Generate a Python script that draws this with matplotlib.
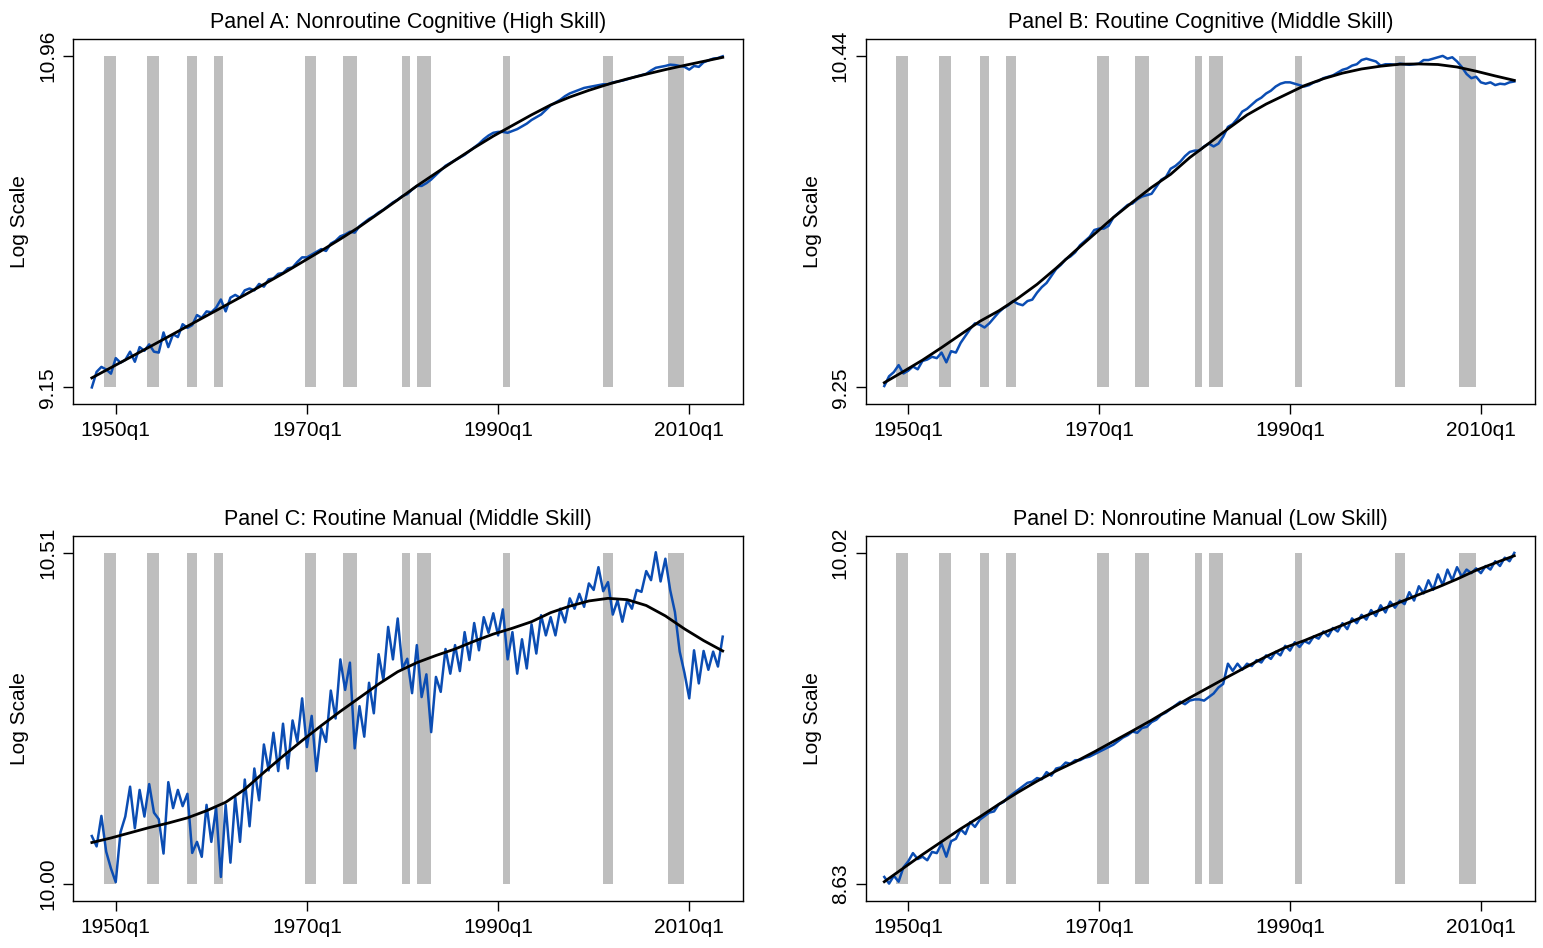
import numpy as np
import matplotlib
matplotlib.use('Agg')
import matplotlib.pyplot as plt

plt.rcParams['font.family'] = ['Liberation Sans', 'DejaVu Sans']

# panel titles and the min / max values shown on each y axis
titles = ['Panel A: Nonroutine Cognitive (High Skill)',
          'Panel B: Routine Cognitive (Middle Skill)',
          'Panel C: Routine Manual (Middle Skill)',
          'Panel D: Nonroutine Manual (Low Skill)']
y_ranges = [(9.15, 10.96), (9.25, 10.44), (10.00, 10.51), (8.63, 10.02)]

x_ticks = [1950.0, 1970.0, 1990.0, 2010.0]
x_ticklabels = ['1950q1', '1970q1', '1990q1', '2010q1']

# NBER recessions (peak quarter .. trough quarter + 1)
rec_start = [1948.75, 1953.25, 1957.5, 1960.25, 1969.75, 1973.75,
             1980.0, 1981.5, 1990.5, 2001.0, 2007.75]
rec_end = [1950.0, 1954.5, 1958.5, 1961.25, 1971.0, 1975.25,
           1980.75, 1983.0, 1991.25, 2002.0, 2009.5]

# employment series, half-yearly from 1947.5 (10 values = 5 years per row)
blue_start = 1947.5
a_blue = [9.150, 9.235, 9.262, 9.248, 9.225, 9.310, 9.285, 9.300, 9.345, 9.290,
          9.370, 9.350, 9.385, 9.345, 9.340, 9.450, 9.370, 9.440, 9.425, 9.495,
          9.475, 9.490, 9.545, 9.530, 9.565, 9.560, 9.585, 9.630, 9.565, 9.640,
          9.655, 9.640, 9.680, 9.690, 9.680, 9.715, 9.700, 9.740, 9.745, 9.770,
          9.775, 9.800, 9.805, 9.835, 9.860, 9.860, 9.875, 9.890, 9.905, 9.895,
          9.935, 9.950, 9.975, 9.985, 10.000, 9.995, 10.030, 10.050, 10.070, 10.085,
          10.105, 10.120, 10.140, 10.160, 10.175, 10.195, 10.205, 10.230, 10.250, 10.250,
          10.265, 10.285, 10.310, 10.335, 10.360, 10.375, 10.390, 10.405, 10.420, 10.440,
          10.460, 10.480, 10.505, 10.525, 10.540, 10.545, 10.545, 10.540, 10.550, 10.560,
          10.575, 10.590, 10.610, 10.625, 10.640, 10.665, 10.690, 10.705, 10.720, 10.740,
          10.755, 10.765, 10.775, 10.785, 10.790, 10.795, 10.800, 10.805, 10.805, 10.815,
          10.820, 10.825, 10.832, 10.840, 10.848, 10.855, 10.862, 10.880, 10.895, 10.900,
          10.905, 10.912, 10.910, 10.905, 10.900, 10.885, 10.905, 10.900, 10.925, 10.935,
          10.945, 10.948, 10.958]
b_blue = [9.255, 9.290, 9.305, 9.330, 9.300, 9.310, 9.325, 9.315, 9.345, 9.350,
          9.360, 9.355, 9.375, 9.340, 9.380, 9.375, 9.410, 9.435, 9.460, 9.480,
          9.475, 9.465, 9.480, 9.500, 9.520, 9.535, 9.545, 9.560, 9.550, 9.545,
          9.560, 9.565, 9.590, 9.610, 9.625, 9.650, 9.675, 9.690, 9.710, 9.720,
          9.735, 9.760, 9.775, 9.790, 9.815, 9.820, 9.820, 9.830, 9.860, 9.875,
          9.890, 9.905, 9.910, 9.925, 9.935, 9.940, 9.945, 9.970, 9.995, 10.005,
          10.035, 10.045, 10.060, 10.080, 10.095, 10.100, 10.100, 10.115, 10.125, 10.115,
          10.125, 10.150, 10.185, 10.195, 10.215, 10.240, 10.250, 10.265, 10.280, 10.290,
          10.305, 10.315, 10.330, 10.340, 10.345, 10.345, 10.340, 10.335, 10.330, 10.335,
          10.345, 10.350, 10.360, 10.365, 10.370, 10.380, 10.390, 10.395, 10.405, 10.410,
          10.425, 10.430, 10.425, 10.420, 10.405, 10.410, 10.410, 10.408, 10.412, 10.410,
          10.408, 10.410, 10.412, 10.425, 10.425, 10.430, 10.435, 10.440, 10.430, 10.435,
          10.420, 10.400, 10.375, 10.360, 10.365, 10.345, 10.340, 10.345, 10.335, 10.340,
          10.338, 10.345, 10.348]
c_blue = [10.074, 10.058, 10.105, 10.050, 10.024, 10.003, 10.080, 10.104, 10.150, 10.086,
          10.145, 10.104, 10.154, 10.110, 10.100, 10.047, 10.157, 10.117, 10.145, 10.120,
          10.139, 10.048, 10.065, 10.042, 10.122, 10.065, 10.117, 10.011, 10.122, 10.033,
          10.134, 10.065, 10.161, 10.089, 10.178, 10.129, 10.215, 10.175, 10.233, 10.174,
          10.247, 10.178, 10.252, 10.219, 10.286, 10.211, 10.259, 10.174, 10.240, 10.219,
          10.298, 10.255, 10.346, 10.299, 10.341, 10.209, 10.274, 10.227, 10.310, 10.263,
          10.354, 10.314, 10.396, 10.346, 10.409, 10.332, 10.347, 10.294, 10.368, 10.288,
          10.323, 10.234, 10.319, 10.296, 10.362, 10.324, 10.368, 10.328, 10.388, 10.345,
          10.402, 10.360, 10.411, 10.387, 10.417, 10.383, 10.423, 10.346, 10.388, 10.324,
          10.377, 10.332, 10.400, 10.355, 10.414, 10.383, 10.411, 10.383, 10.424, 10.403,
          10.440, 10.424, 10.447, 10.427, 10.463, 10.453, 10.488, 10.451, 10.465, 10.415,
          10.437, 10.404, 10.437, 10.424, 10.453, 10.450, 10.482, 10.468, 10.511, 10.466,
          10.501, 10.453, 10.419, 10.358, 10.325, 10.286, 10.360, 10.309, 10.359, 10.330,
          10.358, 10.335, 10.381]
d_blue = [8.660, 8.632, 8.665, 8.640, 8.700, 8.725, 8.760, 8.735, 8.745, 8.730,
          8.765, 8.760, 8.800, 8.745, 8.810, 8.820, 8.860, 8.840, 8.890, 8.870,
          8.900, 8.915, 8.930, 8.935, 8.965, 8.975, 8.995, 9.010, 9.025, 9.040,
          9.055, 9.060, 9.075, 9.070, 9.100, 9.085, 9.115, 9.120, 9.140, 9.135,
          9.150, 9.150, 9.160, 9.165, 9.175, 9.185, 9.195, 9.205, 9.215, 9.230,
          9.245, 9.255, 9.270, 9.265, 9.285, 9.290, 9.310, 9.320, 9.340, 9.350,
          9.365, 9.380, 9.395, 9.385, 9.400, 9.405, 9.405, 9.400, 9.415, 9.430,
          9.455, 9.470, 9.555, 9.525, 9.555, 9.530, 9.555, 9.545, 9.570, 9.560,
          9.590, 9.575, 9.605, 9.590, 9.630, 9.610, 9.645, 9.625, 9.650, 9.640,
          9.670, 9.660, 9.690, 9.670, 9.705, 9.690, 9.725, 9.700, 9.745, 9.725,
          9.760, 9.740, 9.780, 9.755, 9.800, 9.770, 9.815, 9.790, 9.820, 9.805,
          9.855, 9.820, 9.880, 9.850, 9.905, 9.865, 9.930, 9.885, 9.950, 9.905,
          9.960, 9.920, 9.950, 9.935, 9.955, 9.935, 9.965, 9.950, 9.985, 9.965,
          10.000, 9.985, 10.020]

# smoothed trend, every two years from 1947.5
trend_start = 1947.5
a_trend = [9.202, 9.258, 9.314, 9.370, 9.427, 9.484, 9.541, 9.598, 9.655, 9.713,
           9.772, 9.834, 9.896, 9.960, 10.027, 10.100, 10.174, 10.250, 10.320, 10.390,
           10.458, 10.522, 10.580, 10.638, 10.692, 10.735, 10.772, 10.805, 10.834, 10.860,
           10.885, 10.908, 10.930, 10.952]
b_trend = [9.267, 9.307, 9.348, 9.393, 9.440, 9.487, 9.525, 9.570, 9.620, 9.678,
           9.740, 9.800, 9.860, 9.915, 9.968, 10.015, 10.075, 10.126, 10.178, 10.228,
           10.267, 10.300, 10.333, 10.358, 10.378, 10.393, 10.403, 10.410, 10.411, 10.409,
           10.400, 10.385, 10.368, 10.352]
c_trend = [10.064, 10.071, 10.079, 10.087, 10.094, 10.102, 10.113, 10.126, 10.146, 10.172,
           10.197, 10.221, 10.244, 10.266, 10.287, 10.308, 10.327, 10.341, 10.352, 10.362,
           10.374, 10.385, 10.394, 10.404, 10.418, 10.428, 10.436, 10.440, 10.438, 10.429,
           10.413, 10.393, 10.375, 10.359]
d_trend = [8.640, 8.697, 8.754, 8.808, 8.862, 8.912, 8.965, 9.015, 9.062, 9.105,
           9.143, 9.185, 9.229, 9.273, 9.318, 9.366, 9.412, 9.456, 9.500, 9.543,
           9.585, 9.623, 9.652, 9.685, 9.717, 9.749, 9.781, 9.813, 9.845, 9.876,
           9.910, 9.947, 9.978, 10.008]

blues = [a_blue, b_blue, c_blue, d_blue]
trends = [a_trend, b_trend, c_trend, d_trend]

fig = plt.figure(figsize=(15.43, 9.48), dpi=100)
positions = [[0.0475, 0.5735, 0.4342, 0.3854],
             [0.5611, 0.5735, 0.4336, 0.3854],
             [0.0475, 0.0496, 0.4342, 0.3850],
             [0.5611, 0.0496, 0.4336, 0.3850]]

rec_start = np.array(rec_start)
rec_end = np.array(rec_end)

for i in range(4):
    ax = fig.add_axes(positions[i])
    ylo, yhi = y_ranges[i]
    # recession shading spans the data range only
    ax.bar(rec_start, yhi - ylo, width=rec_end - rec_start, bottom=ylo,
           align='edge', color='#bebebe', linewidth=0, zorder=1)
    tb = blue_start + 0.5 * np.arange(len(blues[i]))
    ax.plot(tb, blues[i], color='#0b4db3', lw=1.8, zorder=2)
    tt = trend_start + 2.0 * np.arange(len(trends[i]))
    ax.plot(tt, trends[i], color='black', lw=2.0, zorder=3)

    ax.set_xlim(1945.56, 2015.65)
    pad = 0.051 * (yhi - ylo)
    ax.set_ylim(ylo - pad, yhi + pad)
    ax.set_xticks(x_ticks)
    ax.set_xticklabels(x_ticklabels)
    ax.set_yticks([ylo, yhi])
    ax.set_yticklabels(['%.2f' % ylo, '%.2f' % yhi], rotation=90, va='center')
    ax.tick_params(axis='both', length=7.5, width=1.0, labelsize=15)
    ax.tick_params(axis='x', pad=4.5)
    ax.tick_params(axis='y', pad=4)
    for s in ax.spines.values():
        s.set_linewidth(1.0)
    ax.set_title(titles[i], fontsize=15.5, pad=8)
    ax.set_ylabel('Log Scale', fontsize=15)
    ax.yaxis.set_label_coords(-0.066, 0.5)

fig.savefig('out.png', dpi=100)
